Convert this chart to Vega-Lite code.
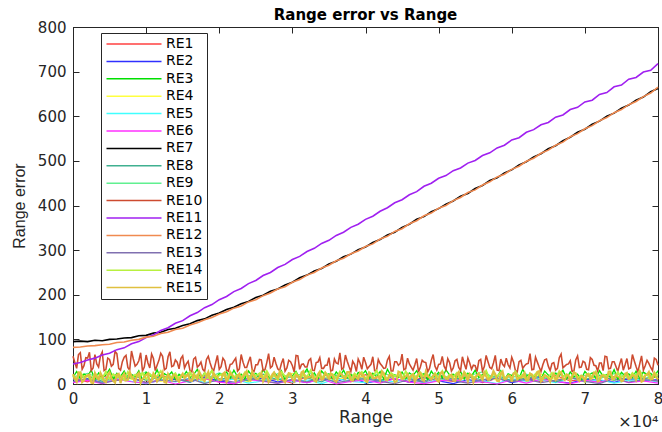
{
"$schema": "https://vega.github.io/schema/vega-lite/v6.json",
"width": 585, "height": 357,
"autosize": {"type": "none"},
"padding": {"left": 73, "top": 27, "right": 4, "bottom": 48},
"background": "white",
"title": {"text": "Range error vs Range", "font": "DejaVu Sans", "fontSize": 15, "fontWeight": "bold", "color": "black", "anchor": "middle", "frame": "group", "offset": -3},
"datasets": {
"low": [
{"r":0,"RE1":12,"RE2":6,"RE4":14,"RE5":4,"RE6":3,"RE8":10,"RE9":16,"RE13":5},
{"r":2000,"RE1":5,"RE2":12,"RE4":20,"RE5":9,"RE6":8,"RE8":18,"RE9":24,"RE13":11},
{"r":4000,"RE1":18,"RE2":3,"RE4":8,"RE5":2,"RE6":1,"RE8":6,"RE9":10,"RE13":2},
{"r":6000,"RE1":8,"RE2":9,"RE4":17,"RE5":12,"RE6":11,"RE8":14,"RE9":20,"RE13":8},
{"r":8000,"RE1":15,"RE2":14,"RE4":11,"RE5":6,"RE6":5,"RE8":21,"RE9":13,"RE13":14},
{"r":10000,"RE1":3,"RE2":2,"RE4":23,"RE5":1,"RE6":2,"RE8":8,"RE9":27,"RE13":3},
{"r":12000,"RE1":20,"RE2":8,"RE4":6,"RE5":10,"RE6":9,"RE8":16,"RE9":8,"RE13":9},
{"r":14000,"RE1":10,"RE2":11,"RE4":15,"RE5":5,"RE6":0,"RE8":12,"RE9":18,"RE13":6},
{"r":16000,"RE1":7,"RE2":4,"RE4":19,"RE5":13,"RE6":7,"RE8":4,"RE9":22,"RE13":12},
{"r":18000,"RE1":16,"RE2":15,"RE4":9,"RE5":3,"RE6":12,"RE8":19,"RE9":11,"RE13":1},
{"r":20000,"RE1":4,"RE2":7,"RE4":22,"RE5":8,"RE6":4,"RE8":11,"RE9":25,"RE13":10},
{"r":22000,"RE1":13,"RE2":1,"RE4":13,"RE5":11,"RE6":1,"RE8":15,"RE9":15,"RE13":4},
{"r":24000,"RE1":19,"RE2":10,"RE4":5,"RE5":2,"RE6":10,"RE8":7,"RE9":19,"RE13":13},
{"r":26000,"RE1":6,"RE2":13,"RE4":18,"RE5":7,"RE6":6,"RE8":22,"RE9":7,"RE13":7},
{"r":28000,"RE1":11,"RE2":5,"RE4":10,"RE5":14,"RE6":2,"RE8":9,"RE9":23,"RE13":2},
{"r":30000,"RE1":2,"RE2":9,"RE4":24,"RE5":4,"RE6":8,"RE8":17,"RE9":14,"RE13":11},
{"r":32000,"RE1":17,"RE2":3,"RE4":12,"RE5":9,"RE6":3,"RE8":13,"RE9":28,"RE13":5},
{"r":34000,"RE1":9,"RE2":12,"RE4":16,"RE5":1,"RE6":11,"RE8":5,"RE9":12,"RE13":15},
{"r":36000,"RE1":14,"RE2":6,"RE4":7,"RE5":12,"RE6":0,"RE8":20,"RE9":17,"RE13":3},
{"r":38000,"RE1":5,"RE2":16,"RE4":21,"RE5":6,"RE6":6,"RE8":10,"RE9":21,"RE13":8},
{"r":40000,"RE1":21,"RE2":2,"RE4":14,"RE5":3,"RE6":9,"RE8":14,"RE9":9,"RE13":12},
{"r":42000,"RE1":8,"RE2":8,"RE4":9,"RE5":10,"RE6":2,"RE8":8,"RE9":26,"RE13":6},
{"r":44000,"RE1":12,"RE2":11,"RE4":19,"RE5":5,"RE6":12,"RE8":18,"RE9":16,"RE13":1},
{"r":46000,"RE1":4,"RE2":4,"RE4":11,"RE5":13,"RE6":4,"RE8":12,"RE9":13,"RE13":10},
{"r":48000,"RE1":16,"RE2":14,"RE4":23,"RE5":2,"RE6":1,"RE8":6,"RE9":24,"RE13":4},
{"r":50000,"RE1":10,"RE2":7,"RE4":6,"RE5":8,"RE6":7,"RE8":21,"RE9":10,"RE13":14},
{"r":52000,"RE1":6,"RE2":1,"RE4":16,"RE5":11,"RE6":10,"RE8":11,"RE9":20,"RE13":7},
{"r":54000,"RE1":18,"RE2":10,"RE4":13,"RE5":4,"RE6":3,"RE8":16,"RE9":18,"RE13":2},
{"r":56000,"RE1":3,"RE2":5,"RE4":20,"RE5":7,"RE6":5,"RE8":9,"RE9":27,"RE13":9},
{"r":58000,"RE1":13,"RE2":13,"RE4":8,"RE5":1,"RE6":0,"RE8":19,"RE9":11,"RE13":13},
{"r":60000,"RE1":9,"RE2":3,"RE4":18,"RE5":12,"RE6":9,"RE8":7,"RE9":15,"RE13":5},
{"r":62000,"RE1":15,"RE2":9,"RE4":12,"RE5":6,"RE6":2,"RE8":13,"RE9":22,"RE13":11},
{"r":64000,"RE1":5,"RE2":15,"RE4":22,"RE5":9,"RE6":11,"RE8":17,"RE9":8,"RE13":3},
{"r":66000,"RE1":19,"RE2":6,"RE4":10,"RE5":3,"RE6":6,"RE8":5,"RE9":25,"RE13":8},
{"r":68000,"RE1":7,"RE2":2,"RE4":15,"RE5":14,"RE6":1,"RE8":15,"RE9":14,"RE13":15},
{"r":70000,"RE1":11,"RE2":11,"RE4":4,"RE5":5,"RE6":8,"RE8":10,"RE9":19,"RE13":6},
{"r":72000,"RE1":4,"RE2":8,"RE4":19,"RE5":10,"RE6":4,"RE8":20,"RE9":12,"RE13":1},
{"r":74000,"RE1":17,"RE2":4,"RE4":14,"RE5":2,"RE6":12,"RE8":8,"RE9":23,"RE13":12},
{"r":76000,"RE1":8,"RE2":12,"RE4":21,"RE5":8,"RE6":3,"RE8":14,"RE9":17,"RE13":4},
{"r":78000,"RE1":14,"RE2":7,"RE4":9,"RE5":11,"RE6":7,"RE8":12,"RE9":26,"RE13":10},
{"r":80000,"RE1":6,"RE2":10,"RE4":17,"RE5":4,"RE6":2,"RE8":18,"RE9":13,"RE13":7}
],
"noise": [
{"r":0,"RE3":15,"RE10":62,"RE14":20,"RE15":22},
{"r":500,"RE3":28,"RE10":35,"RE14":10,"RE15":5},
{"r":1000,"RE3":12,"RE10":70,"RE14":26,"RE15":25},
{"r":1500,"RE3":22,"RE10":41,"RE14":14,"RE15":8},
{"r":2000,"RE3":18,"RE10":58,"RE14":18,"RE15":19},
{"r":2500,"RE3":31,"RE10":30,"RE14":8,"RE15":3},
{"r":3000,"RE3":10,"RE10":66,"RE14":24,"RE15":24},
{"r":3500,"RE3":25,"RE10":38,"RE14":16,"RE15":10},
{"r":4000,"RE3":14,"RE10":72,"RE14":12,"RE15":17},
{"r":4500,"RE3":20,"RE10":33,"RE14":28,"RE15":4},
{"r":5000,"RE3":33,"RE10":55,"RE14":11,"RE15":26},
{"r":5500,"RE3":11,"RE10":44,"RE14":22,"RE15":7},
{"r":6000,"RE3":24,"RE10":68,"RE14":15,"RE15":21},
{"r":6500,"RE3":17,"RE10":31,"RE14":19,"RE15":2},
{"r":7000,"RE3":29,"RE10":60,"RE14":9,"RE15":23},
{"r":7500,"RE3":13,"RE10":37,"RE14":27,"RE15":9},
{"r":8000,"RE3":21,"RE10":74,"RE14":13,"RE15":18},
{"r":8500,"RE3":16,"RE10":40,"RE14":21,"RE15":5},
{"r":9000,"RE3":30,"RE10":52,"RE14":17,"RE15":25},
{"r":9500,"RE3":9,"RE10":29,"RE14":25,"RE15":11},
{"r":10000,"RE3":26,"RE10":65,"RE14":10,"RE15":20},
{"r":10500,"RE3":19,"RE10":36,"RE14":23,"RE15":3},
{"r":11000,"RE3":14,"RE10":57,"RE14":14,"RE15":24},
{"r":11500,"RE3":32,"RE10":42,"RE14":18,"RE15":6},
{"r":12000,"RE3":12,"RE10":69,"RE14":29,"RE15":16},
{"r":12500,"RE3":23,"RE10":32,"RE14":12,"RE15":4},
{"r":13000,"RE3":18,"RE10":61,"RE14":20,"RE15":22},
{"r":13500,"RE3":27,"RE10":39,"RE14":16,"RE15":8},
{"r":14000,"RE3":10,"RE10":54,"RE14":24,"RE15":19},
{"r":14500,"RE3":22,"RE10":34,"RE14":11,"RE15":5},
{"r":15000,"RE3":15,"RE10":63,"RE14":22,"RE15":23},
{"r":15500,"RE3":28,"RE10":45,"RE14":17,"RE15":18},
{"r":16000,"RE3":14,"RE10":30,"RE14":27,"RE15":8},
{"r":16500,"RE3":21,"RE10":56,"RE14":12,"RE15":24},
{"r":17000,"RE3":33,"RE10":38,"RE14":21,"RE15":11},
{"r":17500,"RE3":12,"RE10":49,"RE14":9,"RE15":20},
{"r":18000,"RE3":25,"RE10":28,"RE14":25,"RE15":6},
{"r":18500,"RE3":17,"RE10":62,"RE14":15,"RE15":27},
{"r":19000,"RE3":30,"RE10":35,"RE14":30,"RE15":13},
{"r":19500,"RE3":10,"RE10":47,"RE14":13,"RE15":17},
{"r":20000,"RE3":23,"RE10":33,"RE14":19,"RE15":9},
{"r":20500,"RE3":19,"RE10":58,"RE14":23,"RE15":22},
{"r":21000,"RE3":27,"RE10":31,"RE14":10,"RE15":5},
{"r":21500,"RE3":13,"RE10":44,"RE14":28,"RE15":25},
{"r":22000,"RE3":31,"RE10":52,"RE14":16,"RE15":14},
{"r":22500,"RE3":16,"RE10":29,"RE14":20,"RE15":19},
{"r":23000,"RE3":22,"RE10":66,"RE14":14,"RE15":7},
{"r":23500,"RE3":11,"RE10":37,"RE14":26,"RE15":23},
{"r":24000,"RE3":29,"RE10":50,"RE14":11,"RE15":10},
{"r":24500,"RE3":18,"RE10":32,"RE14":22,"RE15":28},
{"r":25000,"RE3":24,"RE10":43,"RE14":18,"RE15":12},
{"r":25500,"RE3":14,"RE10":55,"RE14":24,"RE15":16},
{"r":26000,"RE3":32,"RE10":30,"RE14":12,"RE15":6},
{"r":26500,"RE3":20,"RE10":48,"RE14":29,"RE15":21},
{"r":27000,"RE3":12,"RE10":36,"RE14":15,"RE15":9},
{"r":27500,"RE3":26,"RE10":60,"RE14":19,"RE15":26},
{"r":28000,"RE3":16,"RE10":34,"RE14":9,"RE15":13},
{"r":28500,"RE3":30,"RE10":46,"RE14":27,"RE15":18},
{"r":29000,"RE3":9,"RE10":29,"RE14":17,"RE15":4},
{"r":29500,"RE3":24,"RE10":53,"RE14":21,"RE15":24},
{"r":30000,"RE3":18,"RE10":41,"RE14":13,"RE15":11},
{"r":30500,"RE3":28,"RE10":64,"RE14":25,"RE15":20},
{"r":31000,"RE3":13,"RE10":33,"RE14":10,"RE15":8},
{"r":31500,"RE3":21,"RE10":45,"RE14":23,"RE15":29},
{"r":32000,"RE3":34,"RE10":38,"RE14":16,"RE15":14},
{"r":32500,"RE3":15,"RE10":57,"RE14":31,"RE15":17},
{"r":33000,"RE3":25,"RE10":30,"RE14":14,"RE15":7},
{"r":33500,"RE3":11,"RE10":49,"RE14":20,"RE15":22},
{"r":34000,"RE3":29,"RE10":35,"RE14":11,"RE15":10},
{"r":34500,"RE3":19,"RE10":42,"RE14":26,"RE15":25},
{"r":35000,"RE3":23,"RE10":59,"RE14":18,"RE15":12},
{"r":35500,"RE3":12,"RE10":31,"RE14":22,"RE15":19},
{"r":36000,"RE3":27,"RE10":47,"RE14":13,"RE15":5},
{"r":36500,"RE3":17,"RE10":70,"RE14":28,"RE15":23},
{"r":37000,"RE3":31,"RE10":36,"RE14":15,"RE15":15},
{"r":37500,"RE3":14,"RE10":51,"RE14":19,"RE15":27},
{"r":38000,"RE3":22,"RE10":28,"RE14":10,"RE15":9},
{"r":38500,"RE3":10,"RE10":44,"RE14":24,"RE15":18},
{"r":39000,"RE3":26,"RE10":56,"RE14":17,"RE15":11},
{"r":39500,"RE3":20,"RE10":33,"RE14":27,"RE15":21},
{"r":40000,"RE3":30,"RE10":48,"RE14":12,"RE15":6},
{"r":40500,"RE3":13,"RE10":39,"RE14":21,"RE15":26},
{"r":41000,"RE3":24,"RE10":61,"RE14":16,"RE15":13},
{"r":41500,"RE3":16,"RE10":30,"RE14":30,"RE15":16},
{"r":42000,"RE3":28,"RE10":46,"RE14":14,"RE15":8},
{"r":42500,"RE3":11,"RE10":35,"RE14":23,"RE15":24},
{"r":43000,"RE3":33,"RE10":54,"RE14":9,"RE15":10},
{"r":43500,"RE3":18,"RE10":29,"RE14":25,"RE15":20},
{"r":44000,"RE3":21,"RE10":50,"RE14":18,"RE15":4},
{"r":44500,"RE3":15,"RE10":42,"RE14":20,"RE15":28},
{"r":45000,"RE3":27,"RE10":67,"RE14":11,"RE15":12},
{"r":45500,"RE3":12,"RE10":34,"RE14":28,"RE15":17},
{"r":46000,"RE3":25,"RE10":45,"RE14":15,"RE15":9},
{"r":46500,"RE3":19,"RE10":31,"RE14":22,"RE15":22},
{"r":47000,"RE3":30,"RE10":57,"RE14":13,"RE15":14},
{"r":47500,"RE3":14,"RE10":38,"RE14":26,"RE15":25},
{"r":48000,"RE3":23,"RE10":49,"RE14":17,"RE15":7},
{"r":48500,"RE3":10,"RE10":27,"RE14":19,"RE15":19},
{"r":49000,"RE3":29,"RE10":53,"RE14":10,"RE15":11},
{"r":49500,"RE3":17,"RE10":40,"RE14":24,"RE15":23},
{"r":50000,"RE3":26,"RE10":44,"RE14":14,"RE15":5},
{"r":50500,"RE3":13,"RE10":62,"RE14":29,"RE15":27},
{"r":51000,"RE3":32,"RE10":32,"RE14":12,"RE15":13},
{"r":51500,"RE3":20,"RE10":48,"RE14":21,"RE15":18},
{"r":52000,"RE3":22,"RE10":36,"RE14":16,"RE15":8},
{"r":52500,"RE3":15,"RE10":55,"RE14":25,"RE15":21},
{"r":53000,"RE3":28,"RE10":30,"RE14":11,"RE15":10},
{"r":53500,"RE3":11,"RE10":46,"RE14":27,"RE15":26},
{"r":54000,"RE3":24,"RE10":58,"RE14":18,"RE15":6},
{"r":54500,"RE3":18,"RE10":33,"RE14":20,"RE15":20},
{"r":55000,"RE3":31,"RE10":41,"RE14":13,"RE15":15},
{"r":55500,"RE3":14,"RE10":52,"RE14":23,"RE15":24},
{"r":56000,"RE3":21,"RE10":29,"RE14":15,"RE15":9},
{"r":56500,"RE3":27,"RE10":64,"RE14":30,"RE15":17},
{"r":57000,"RE3":12,"RE10":37,"RE14":10,"RE15":12},
{"r":57500,"RE3":25,"RE10":47,"RE14":22,"RE15":29},
{"r":58000,"RE3":16,"RE10":31,"RE14":17,"RE15":7},
{"r":58500,"RE3":30,"RE10":56,"RE14":26,"RE15":22},
{"r":59000,"RE3":10,"RE10":39,"RE14":12,"RE15":11},
{"r":59500,"RE3":23,"RE10":43,"RE14":19,"RE15":19},
{"r":60000,"RE3":19,"RE10":60,"RE14":14,"RE15":5},
{"r":60500,"RE3":28,"RE10":30,"RE14":28,"RE15":25},
{"r":61000,"RE3":13,"RE10":50,"RE14":16,"RE15":14},
{"r":61500,"RE3":33,"RE10":35,"RE14":21,"RE15":18},
{"r":62000,"RE3":17,"RE10":45,"RE14":9,"RE15":8},
{"r":62500,"RE3":22,"RE10":68,"RE14":24,"RE15":23},
{"r":63000,"RE3":15,"RE10":33,"RE14":18,"RE15":10},
{"r":63500,"RE3":26,"RE10":49,"RE14":27,"RE15":27},
{"r":64000,"RE3":11,"RE10":28,"RE14":13,"RE15":6},
{"r":64500,"RE3":29,"RE10":54,"RE14":20,"RE15":20},
{"r":65000,"RE3":20,"RE10":40,"RE14":15,"RE15":13},
{"r":65500,"RE3":14,"RE10":46,"RE14":25,"RE15":16},
{"r":66000,"RE3":24,"RE10":31,"RE14":11,"RE15":9},
{"r":66500,"RE3":18,"RE10":59,"RE14":29,"RE15":24},
{"r":67000,"RE3":31,"RE10":36,"RE14":17,"RE15":12},
{"r":67500,"RE3":12,"RE10":44,"RE14":22,"RE15":21},
{"r":68000,"RE3":27,"RE10":52,"RE14":12,"RE15":4},
{"r":68500,"RE3":16,"RE10":29,"RE14":26,"RE15":26},
{"r":69000,"RE3":22,"RE10":63,"RE14":14,"RE15":11},
{"r":69500,"RE3":10,"RE10":38,"RE14":19,"RE15":18},
{"r":70000,"RE3":28,"RE10":48,"RE14":10,"RE15":7},
{"r":70500,"RE3":19,"RE10":32,"RE14":23,"RE15":22},
{"r":71000,"RE3":25,"RE10":55,"RE14":16,"RE15":15},
{"r":71500,"RE3":13,"RE10":41,"RE14":28,"RE15":25},
{"r":72000,"RE3":30,"RE10":47,"RE14":13,"RE15":8},
{"r":72500,"RE3":17,"RE10":30,"RE14":21,"RE15":19},
{"r":73000,"RE3":21,"RE10":61,"RE14":18,"RE15":10},
{"r":73500,"RE3":15,"RE10":35,"RE14":24,"RE15":28},
{"r":74000,"RE3":32,"RE10":50,"RE14":11,"RE15":13},
{"r":74500,"RE3":11,"RE10":28,"RE14":27,"RE15":17},
{"r":75000,"RE3":26,"RE10":57,"RE14":15,"RE15":6},
{"r":75500,"RE3":18,"RE10":43,"RE14":20,"RE15":23},
{"r":76000,"RE3":23,"RE10":34,"RE14":12,"RE15":11},
{"r":76500,"RE3":14,"RE10":66,"RE14":25,"RE15":20},
{"r":77000,"RE3":29,"RE10":39,"RE14":17,"RE15":9},
{"r":77500,"RE3":12,"RE10":45,"RE14":30,"RE15":26},
{"r":78000,"RE3":27,"RE10":31,"RE14":14,"RE15":7},
{"r":78500,"RE3":20,"RE10":53,"RE14":22,"RE15":21},
{"r":79000,"RE3":24,"RE10":37,"RE14":10,"RE15":12},
{"r":79500,"RE3":16,"RE10":58,"RE14":26,"RE15":24},
{"r":80000,"RE3":30,"RE10":42,"RE14":19,"RE15":10},
{"r":250,"RE10":48,"RE15":12},
{"r":750,"RE10":66,"RE15":26},
{"r":1250,"RE10":33,"RE15":4},
{"r":1750,"RE10":59,"RE15":17},
{"r":2250,"RE10":71,"RE15":21},
{"r":2750,"RE10":36,"RE15":2},
{"r":3250,"RE10":45,"RE15":14},
{"r":3750,"RE10":63,"RE15":25},
{"r":4250,"RE10":30,"RE15":6},
{"r":4750,"RE10":58,"RE15":19},
{"r":5250,"RE10":40,"RE15":13},
{"r":5750,"RE10":73,"RE15":3},
{"r":6250,"RE10":35,"RE15":23},
{"r":6750,"RE10":50,"RE15":16},
{"r":7250,"RE10":64,"RE15":8},
{"r":7750,"RE10":31,"RE15":27},
{"r":8250,"RE10":56,"RE15":11},
{"r":8750,"RE10":44,"RE15":20},
{"r":9250,"RE10":70,"RE15":2},
{"r":9750,"RE10":38,"RE15":15},
{"r":10250,"RE10":47,"RE15":24},
{"r":10750,"RE10":67,"RE15":7},
{"r":11250,"RE10":30,"RE15":18},
{"r":11750,"RE10":53,"RE15":12},
{"r":12250,"RE10":62,"RE15":26},
{"r":12750,"RE10":35,"RE15":3},
{"r":13250,"RE10":72,"RE15":14},
{"r":13750,"RE10":41,"RE15":21},
{"r":14250,"RE10":49,"RE15":9},
{"r":14750,"RE10":57,"RE15":17},
{"r":15250,"RE10":36,"RE15":13},
{"r":15750,"RE10":51,"RE15":22},
{"r":16250,"RE10":27,"RE15":7},
{"r":16750,"RE10":60,"RE15":17},
{"r":17250,"RE10":42,"RE15":28},
{"r":17750,"RE10":33,"RE15":10},
{"r":18250,"RE10":55,"RE15":19},
{"r":18750,"RE10":47,"RE15":5},
{"r":19250,"RE10":30,"RE15":24},
{"r":19750,"RE10":64,"RE15":15},
{"r":20250,"RE10":39,"RE15":9},
{"r":20750,"RE10":52,"RE15":26},
{"r":21250,"RE10":29,"RE15":12},
{"r":21750,"RE10":45,"RE15":20},
{"r":22250,"RE10":58,"RE15":6},
{"r":22750,"RE10":34,"RE15":23},
{"r":23250,"RE10":49,"RE15":16},
{"r":23750,"RE10":37,"RE15":29},
{"r":24250,"RE10":61,"RE15":8},
{"r":24750,"RE10":28,"RE15":18},
{"r":25250,"RE10":43,"RE15":11},
{"r":25750,"RE10":54,"RE15":25},
{"r":26250,"RE10":32,"RE15":14},
{"r":26750,"RE10":68,"RE15":4},
{"r":27250,"RE10":40,"RE15":21},
{"r":27750,"RE10":46,"RE15":17},
{"r":28250,"RE10":30,"RE15":27},
{"r":28750,"RE10":57,"RE15":9},
{"r":29250,"RE10":36,"RE15":13},
{"r":29750,"RE10":50,"RE15":23},
{"r":30250,"RE10":27,"RE15":6},
{"r":30750,"RE10":63,"RE15":19},
{"r":31250,"RE10":44,"RE15":26},
{"r":31750,"RE10":38,"RE15":10},
{"r":32250,"RE10":53,"RE15":15},
{"r":32750,"RE10":31,"RE15":22},
{"r":33250,"RE10":48,"RE15":5},
{"r":33750,"RE10":59,"RE15":28},
{"r":34250,"RE10":35,"RE15":12},
{"r":34750,"RE10":42,"RE15":18},
{"r":35250,"RE10":29,"RE15":24},
{"r":35750,"RE10":56,"RE15":8},
{"r":36250,"RE10":45,"RE15":16},
{"r":36750,"RE10":33,"RE15":21},
{"r":37250,"RE10":65,"RE15":11},
{"r":37750,"RE10":39,"RE15":27},
{"r":38250,"RE10":51,"RE15":7},
{"r":38750,"RE10":28,"RE15":14},
{"r":39250,"RE10":47,"RE15":25},
{"r":39750,"RE10":60,"RE15":19},
{"r":40250,"RE10":34,"RE15":4},
{"r":40750,"RE10":44,"RE15":23},
{"r":41250,"RE10":30,"RE15":13},
{"r":41750,"RE10":55,"RE15":17},
{"r":42250,"RE10":41,"RE15":29},
{"r":42750,"RE10":36,"RE15":9},
{"r":43250,"RE10":62,"RE15":20},
{"r":43750,"RE10":29,"RE15":15},
{"r":44250,"RE10":50,"RE15":6},
{"r":44750,"RE10":46,"RE15":26},
{"r":45250,"RE10":32,"RE15":12},
{"r":45750,"RE10":58,"RE15":22},
{"r":46250,"RE10":38,"RE15":18},
{"r":46750,"RE10":43,"RE15":5},
{"r":47250,"RE10":27,"RE15":24},
{"r":47750,"RE10":53,"RE15":10},
{"r":48250,"RE10":48,"RE15":28},
{"r":48750,"RE10":35,"RE15":14},
{"r":49250,"RE10":66,"RE15":19},
{"r":49750,"RE10":31,"RE15":8},
{"r":50250,"RE10":45,"RE15":25},
{"r":50750,"RE10":40,"RE15":16},
{"r":51250,"RE10":57,"RE15":11},
{"r":51750,"RE10":29,"RE15":21},
{"r":52250,"RE10":52,"RE15":7},
{"r":52750,"RE10":37,"RE15":27},
{"r":53250,"RE10":61,"RE15":13},
{"r":53750,"RE10":33,"RE15":18},
{"r":54250,"RE10":47,"RE15":23},
{"r":54750,"RE10":42,"RE15":4},
{"r":55250,"RE10":28,"RE15":20},
{"r":55750,"RE10":55,"RE15":15},
{"r":56250,"RE10":39,"RE15":26},
{"r":56750,"RE10":50,"RE15":9},
{"r":57250,"RE10":34,"RE15":17},
{"r":57750,"RE10":64,"RE15":22},
{"r":58250,"RE10":30,"RE15":6},
{"r":58750,"RE10":44,"RE15":28},
{"r":59250,"RE10":58,"RE15":12},
{"r":59750,"RE10":36,"RE15":19},
{"r":60250,"RE10":49,"RE15":24},
{"r":60750,"RE10":27,"RE15":10},
{"r":61250,"RE10":53,"RE15":14},
{"r":61750,"RE10":41,"RE15":25},
{"r":62250,"RE10":46,"RE15":8},
{"r":62750,"RE10":32,"RE15":21},
{"r":63250,"RE10":60,"RE15":16},
{"r":63750,"RE10":38,"RE15":29},
{"r":64250,"RE10":43,"RE15":11},
{"r":64750,"RE10":56,"RE15":18},
{"r":65250,"RE10":30,"RE15":5},
{"r":65750,"RE10":48,"RE15":23},
{"r":66250,"RE10":35,"RE15":13},
{"r":66750,"RE10":67,"RE15":27},
{"r":67250,"RE10":40,"RE15":9},
{"r":67750,"RE10":45,"RE15":20},
{"r":68250,"RE10":28,"RE15":15},
{"r":68750,"RE10":54,"RE15":24},
{"r":69250,"RE10":37,"RE15":7},
{"r":69750,"RE10":51,"RE15":17},
{"r":70250,"RE10":33,"RE15":22},
{"r":70750,"RE10":59,"RE15":12},
{"r":71250,"RE10":42,"RE15":26},
{"r":71750,"RE10":29,"RE15":6},
{"r":72250,"RE10":47,"RE15":19},
{"r":72750,"RE10":62,"RE15":14},
{"r":73250,"RE10":34,"RE15":28},
{"r":73750,"RE10":50,"RE15":10},
{"r":74250,"RE10":39,"RE15":21},
{"r":74750,"RE10":44,"RE15":16},
{"r":75250,"RE10":31,"RE15":8},
{"r":75750,"RE10":57,"RE15":25},
{"r":76250,"RE10":36,"RE15":13},
{"r":76750,"RE10":52,"RE15":18},
{"r":77250,"RE10":27,"RE15":23},
{"r":77750,"RE10":63,"RE15":5},
{"r":78250,"RE10":41,"RE15":20},
{"r":78750,"RE10":46,"RE15":27},
{"r":79250,"RE10":30,"RE15":11},
{"r":79750,"RE10":55,"RE15":15}
],
"curves": [
{"r":0,"RE7":95,"RE11":45,"RE12":82},
{"r":1000,"RE7":96,"RE11":48,"RE12":83},
{"r":2000,"RE7":95,"RE11":54,"RE12":85},
{"r":3000,"RE7":98,"RE11":58,"RE12":86},
{"r":4000,"RE7":97,"RE11":65,"RE12":88},
{"r":5000,"RE7":100,"RE11":69,"RE12":89},
{"r":6000,"RE7":101,"RE11":77,"RE12":93},
{"r":7000,"RE7":103,"RE11":81,"RE12":94},
{"r":8000,"RE7":104,"RE11":90,"RE12":98},
{"r":9000,"RE7":108,"RE11":95,"RE12":100},
{"r":10000,"RE7":109,"RE11":104,"RE12":105},
{"r":11000,"RE7":114,"RE11":110,"RE12":107},
{"r":12000,"RE7":116,"RE11":120,"RE12":113},
{"r":13000,"RE7":122,"RE11":126,"RE12":116},
{"r":14000,"RE7":125,"RE11":136,"RE12":122},
{"r":15000,"RE7":131,"RE11":142,"RE12":125},
{"r":16000,"RE7":135,"RE11":153,"RE12":132},
{"r":17000,"RE7":142,"RE11":160,"RE12":137},
{"r":18000,"RE7":146,"RE11":171,"RE12":144},
{"r":19000,"RE7":154,"RE11":178,"RE12":149},
{"r":20000,"RE7":159,"RE11":189,"RE12":157},
{"r":21000,"RE7":167,"RE11":196,"RE12":162},
{"r":22000,"RE7":172,"RE11":207,"RE12":170},
{"r":23000,"RE7":180,"RE11":214,"RE12":175},
{"r":24000,"RE7":185,"RE11":225,"RE12":184},
{"r":25000,"RE7":194,"RE11":232,"RE12":189},
{"r":26000,"RE7":199,"RE11":243,"RE12":198},
{"r":27000,"RE7":208,"RE11":250,"RE12":204},
{"r":28000,"RE7":213,"RE11":261,"RE12":213},
{"r":29000,"RE7":222,"RE11":268,"RE12":218},
{"r":30000,"RE7":228,"RE11":279,"RE12":228},
{"r":31000,"RE7":238,"RE11":286,"RE12":234},
{"r":32000,"RE7":244,"RE11":297,"RE12":244},
{"r":33000,"RE7":253,"RE11":304,"RE12":250},
{"r":34000,"RE7":259,"RE11":315,"RE12":260},
{"r":35000,"RE7":269,"RE11":322,"RE12":266},
{"r":36000,"RE7":275,"RE11":333,"RE12":276},
{"r":37000,"RE7":285,"RE11":340,"RE12":282},
{"r":38000,"RE7":291,"RE11":351,"RE12":292},
{"r":39000,"RE7":301,"RE11":358,"RE12":298},
{"r":40000,"RE7":307,"RE11":369,"RE12":308},
{"r":41000,"RE7":317,"RE11":376,"RE12":314},
{"r":42000,"RE7":324,"RE11":387,"RE12":325},
{"r":43000,"RE7":334,"RE11":395,"RE12":331},
{"r":44000,"RE7":340,"RE11":406,"RE12":342},
{"r":45000,"RE7":351,"RE11":413,"RE12":348},
{"r":46000,"RE7":358,"RE11":424,"RE12":359},
{"r":47000,"RE7":369,"RE11":431,"RE12":366},
{"r":48000,"RE7":375,"RE11":443,"RE12":377},
{"r":49000,"RE7":386,"RE11":450,"RE12":383},
{"r":50000,"RE7":393,"RE11":461,"RE12":394},
{"r":51000,"RE7":403,"RE11":467,"RE12":400},
{"r":52000,"RE7":410,"RE11":478,"RE12":411},
{"r":53000,"RE7":421,"RE11":484,"RE12":418},
{"r":54000,"RE7":427,"RE11":495,"RE12":429},
{"r":55000,"RE7":438,"RE11":501,"RE12":435},
{"r":56000,"RE7":445,"RE11":512,"RE12":446},
{"r":57000,"RE7":456,"RE11":518,"RE12":453},
{"r":58000,"RE7":462,"RE11":529,"RE12":464},
{"r":59000,"RE7":473,"RE11":535,"RE12":470},
{"r":60000,"RE7":480,"RE11":547,"RE12":481},
{"r":61000,"RE7":491,"RE11":552,"RE12":488},
{"r":62000,"RE7":498,"RE11":564,"RE12":499},
{"r":63000,"RE7":509,"RE11":570,"RE12":506},
{"r":64000,"RE7":516,"RE11":581,"RE12":517},
{"r":65000,"RE7":527,"RE11":586,"RE12":524},
{"r":66000,"RE7":534,"RE11":598,"RE12":535},
{"r":67000,"RE7":545,"RE11":603,"RE12":542},
{"r":68000,"RE7":553,"RE11":615,"RE12":554},
{"r":69000,"RE7":564,"RE11":620,"RE12":561},
{"r":70000,"RE7":571,"RE11":632,"RE12":572},
{"r":71000,"RE7":582,"RE11":636,"RE12":579},
{"r":72000,"RE7":589,"RE11":649,"RE12":590},
{"r":73000,"RE7":600,"RE11":653,"RE12":597},
{"r":74000,"RE7":607,"RE11":666,"RE12":608},
{"r":75000,"RE7":618,"RE11":670,"RE12":615},
{"r":76000,"RE7":625,"RE11":683,"RE12":626},
{"r":77000,"RE7":636,"RE11":687,"RE12":633},
{"r":78000,"RE7":643,"RE11":699,"RE12":644},
{"r":79000,"RE7":655,"RE11":703,"RE12":652},
{"r":80000,"RE7":662,"RE11":718,"RE12":665}
]
},
"config": {
"view": {"stroke": "#262626", "strokeWidth": 1},
"axis": {"grid": false, "domainColor": "#262626", "tickColor": "#262626", "labelColor": "#262626", "titleColor": "#262626", "labelFont": "DejaVu Sans", "labelFontSize": 15, "titleFont": "DejaVu Sans", "titleFontWeight": "normal", "tickSize": -6, "domainWidth": 1, "tickWidth": 1, "labelFlush": false},
"legend": {"fillColor": "white", "strokeColor": "#262626", "padding": 4, "symbolType": "M-1,0H9", "symbolSize": 121, "symbolStrokeWidth": 1.5, "labelFont": "DejaVu Sans", "labelFontSize": 14, "labelColor": "black", "labelOffset": 47, "rowPadding": 3.4, "labelLimit": 0}
},
"resolve": {"axis": {"x": "independent", "y": "independent"}},
"layer": [
{
"data": {"name": "low"},
"transform": [{"fold": ["RE1","RE2","RE4","RE5","RE6","RE8","RE9","RE13"], "as": ["series","err"]}],
"mark": {"type": "line", "strokeWidth": 1.2},
"encoding": {
"x": {"field": "r", "type": "quantitative", "scale": {"domain": [0, 80000]}, "axis": {"orient": "bottom", "values": [0,10000,20000,30000,40000,50000,60000,70000,80000], "labelExpr": "format(datum.value / 10000, 'd')", "labelPadding": 13, "title": "Range", "titleFontSize": 17, "titlePadding": 3}},
"y": {"field": "err", "type": "quantitative", "scale": {"domain": [0, 800]}, "axis": {"orient": "left", "values": [0,100,200,300,400,500,600,700,800], "labelPadding": 13, "title": "Range error", "titleFont": "Liberation Sans", "titleFontSize": 16, "titlePadding": 10}},
"color": {"field": "series", "type": "nominal", "scale": {"domain": ["RE1","RE2","RE3","RE4","RE5","RE6","RE7","RE8","RE9","RE10","RE11","RE12","RE13","RE14","RE15"], "range": ["#ff4040","#3030ff","#00e000","#ffff40","#40ffff","#ff30ff","#000000","#40b090","#60f090","#cd4b30","#a020f0","#f08a50","#8070b0","#b8f040","#e0c040"]}, "legend": {"orient": "none", "legendX": 28, "legendY": 6, "title": null}}
}
},
{
"data": {"name": "noise"},
"transform": [{"fold": ["RE3","RE10","RE14","RE15"], "as": ["series","err"]}, {"filter": {"field": "err", "valid": true}}],
"mark": {"type": "line"},
"encoding": {
"x": {"field": "r", "type": "quantitative", "scale": {"domain": [0, 80000]}, "axis": {"orient": "bottom", "labels": false, "ticks": false, "domain": false, "title": "×10⁴", "titleAnchor": "end", "titleFontSize": 16, "titlePadding": 29}},
"y": {"field": "err", "type": "quantitative", "scale": {"domain": [0, 800]}, "axis": null},
"strokeWidth": {"field": "series", "type": "nominal", "scale": {"domain": ["RE3","RE10","RE14","RE15"], "range": [1.3, 2.1, 1.3, 2.3]}, "legend": null},
"color": {"field": "series", "type": "nominal", "scale": {"domain": ["RE1","RE2","RE3","RE4","RE5","RE6","RE7","RE8","RE9","RE10","RE11","RE12","RE13","RE14","RE15"], "range": ["#ff4040","#3030ff","#00e000","#ffff40","#40ffff","#ff30ff","#000000","#40b090","#60f090","#cd4b30","#a020f0","#f08a50","#8070b0","#b8f040","#e0c040"]}, "legend": {"orient": "none", "legendX": 28, "legendY": 6, "title": null}}
}
},
{
"data": {"name": "curves"},
"transform": [{"fold": ["RE7","RE11","RE12"], "as": ["series","err"]}],
"mark": {"type": "line", "strokeWidth": 1.6},
"encoding": {
"x": {"field": "r", "type": "quantitative", "scale": {"domain": [0, 80000]}, "axis": {"orient": "top", "values": [0,10000,20000,30000,40000,50000,60000,70000,80000], "labels": false, "title": null}},
"y": {"field": "err", "type": "quantitative", "scale": {"domain": [0, 800]}, "axis": {"orient": "right", "values": [0,100,200,300,400,500,600,700,800], "labels": false, "title": null}},
"color": {"field": "series", "type": "nominal", "scale": {"domain": ["RE1","RE2","RE3","RE4","RE5","RE6","RE7","RE8","RE9","RE10","RE11","RE12","RE13","RE14","RE15"], "range": ["#ff4040","#3030ff","#00e000","#ffff40","#40ffff","#ff30ff","#000000","#40b090","#60f090","#cd4b30","#a020f0","#f08a50","#8070b0","#b8f040","#e0c040"]}, "legend": {"orient": "none", "legendX": 28, "legendY": 6, "title": null}}
}
}
]
}
